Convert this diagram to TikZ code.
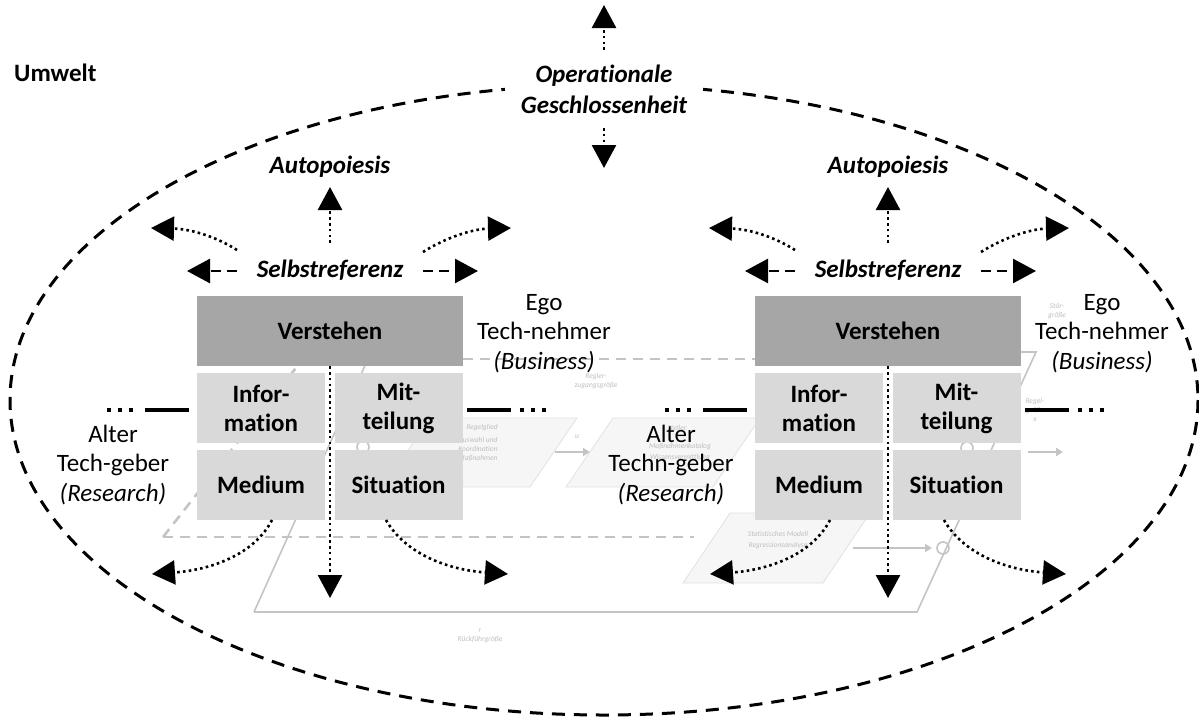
\documentclass[tikz,border=0pt]{standalone}
\usepackage{fontspec}
\setmainfont{Carlito}[Ligatures=NoCommon]
\usetikzlibrary{arrows.meta}
\definecolor{boxdark}{HTML}{A6A6A6}
\definecolor{boxlight}{HTML}{D9D9D9}
\definecolor{faint}{HTML}{C4C4C4}
\definecolor{fainttext}{HTML}{BEBEBE}
\definecolor{faintfill}{HTML}{F6F6F6}
\begin{document}
\begin{tikzpicture}[x=1pt,y=-1pt,
  lbl/.style={font=\fontsize{25}{29.5}\selectfont, align=center, inner sep=0pt},
  bi/.style={font=\fontsize{25}{31}\selectfont\bfseries\itshape, align=center, inner sep=0pt},
  box/.style={fill=boxlight, draw=none, minimum width=128pt, minimum height=70pt, inner sep=0pt,
              font=\fontsize{25}{29}\selectfont\bfseries, align=center},
  topbox/.style={box, fill=boxdark, minimum width=266pt},
  tri/.style={-{Triangle[length=23pt,width=24pt]}},
  dotarrow/.style={tri, line width=2.6pt, dash pattern=on 2.6pt off 3.2pt},
  dasharrow/.style={tri, line width=2.6pt, dash pattern=on 10pt off 6pt},
  bdash/.style={line width=3pt, dash pattern=on 13pt off 9pt},
  link/.style={line width=3.2pt},
  dots/.style={line width=4pt, dash pattern=on 4pt off 7pt},
  bgline/.style={draw=faint, line width=1.6pt},
  bgdash/.style={draw=faint, line width=2.6pt, dash pattern=on 10pt off 7pt},
  tiny/.style={font=\fontsize{7.5}{9}\selectfont\itshape, text=fainttext, inner sep=0pt, align=center},
  plane/.style={fill=faintfill, draw=faint!50, line width=0.8pt},
]
\useasboundingbox (0,0) rectangle (1199,718);

% ---------- faded control loop in the background ----------
\draw[bgline] (254,612) -- (917,612) -- (1036,352) -- (1010,352);
\draw[bgline] (254,612) -- (372,350);
\draw[bgdash] (463,359) -- (755,359);
\draw[bgdash] (163,537) -- (694,537);
\draw[bgdash] (163,537) -- (303,359);
\filldraw[plane] (430,418) -- (577,418) -- (530,487) -- (383,487) -- cycle;
\filldraw[plane] (613,418) -- (760,418) -- (713,487) -- (566,487) -- cycle;
\filldraw[plane] (730,513) -- (870,513) -- (823,583) -- (683,583) -- cycle;
\node[tiny] (t1) at (482,428) {Regelglied};
\node[tiny] (t2) at (478,449) {Auswahl und\\Koordination\\Maßnahmen};
\node[tiny] (t3) at (677,428) {Steller};
\node[tiny] (t4) at (680,452) {Maßnahmenkatalog\\[2pt]Wissensvermittlung};
\node[tiny] (t5) at (778,540) {Statistisches Modell\\[2pt]Regressionsanalyse};
\node[tiny] (t6) at (596,381) {Regler-\\zugangsgröße};
\node[tiny] (t7) at (1057,311) {Stör-\\größe};
\node[tiny] (t8) at (1035,410) {Regel-\\größe\\x};
\node[tiny] (t9) at (480,636) {r\\Rückführgröße};
\node[tiny] (t10) at (577,437) {u};
\draw[faint, line width=2pt, -{Triangle[length=7pt,width=8pt]}] (555,452) -- (590,452);
\draw[faint, line width=2pt, -{Triangle[length=7pt,width=8pt]}] (1028,452) -- (1063,452);
\draw[faint, line width=2pt, -{Triangle[length=7pt,width=8pt]}] (853,548) -- (932,548);
\draw[faint, line width=1.6pt] (943,548) circle (6);
\draw[faint, line width=1.6pt] (967,448) circle (6);
\draw[faint, line width=1.6pt] (363,447) circle (6);

% ---------- system boundary ----------
\draw[bdash] (604,400) ellipse [x radius=594, y radius=315];

\node[font=\fontsize{25}{29.5}\selectfont\bfseries, anchor=base west, inner sep=0pt] (umwelt) at (14,81) {Umwelt};

% multi-line nodes: the base anchor sits on the last line
\node[bi, fill=white, inner xsep=16pt, inner ysep=4pt, anchor=base] (opg) at (604,113)
  {Operationale\\Geschlossenheit};
\coordinate (opgtop) at (604,5);
\coordinate (opgbot) at (604,168);
\draw[dotarrow] (604,50) -- (opgtop);
\draw[dotarrow] (604,128) -- (opgbot);

% ---------- the two communication units ----------
\foreach \m/\cx/\geber in {L/330/Tech-geber, R/888/Techn-geber}{
  \node[topbox] (vs-\m) at (\cx,331) {Verstehen};
  \node[box] (inf-\m) at (\cx-69,408) {Infor-\\mation};
  \node[box] (mit-\m) at (\cx+68.5,408) {Mit-\\teilung};
  \node[box] (med-\m) at (\cx-69,485) {Medium};
  \node[box] (sit-\m) at (\cx+68.5,485) {Situation};

  \node[bi, anchor=base] (auto-\m) at (\cx,173) {Autopoiesis};
  \node[bi, anchor=base] (sr-\m) at (\cx,277) {Selbstreferenz};

  \coordinate (aup-\m) at (\cx,187);
  \draw[dotarrow] (\cx,243) -- (aup-\m);

  \coordinate (srl-\m) at (\cx-143,271);
  \coordinate (srr-\m) at (\cx+148,271);
  \draw[dasharrow] (\cx-93,271) -- (srl-\m);
  \draw[dasharrow] (\cx+93,271) -- (srr-\m);

  \coordinate (ul-\m) at (\cx-179,228);
  \coordinate (ur-\m) at (\cx+181,228);
  \draw[dotarrow] (\cx-93,250) .. controls (\cx-115,236) and (\cx-140,229) .. (ul-\m);
  \draw[dotarrow] (\cx+93,252) .. controls (\cx+115,238) and (\cx+142,229) .. (ur-\m);

  \coordinate (dl-\m) at (\cx-178,574);
  \coordinate (dr-\m) at (\cx+178,574);
  \coordinate (dd-\m) at (\cx,598);
  \draw[dotarrow] (\cx-58,520) .. controls (\cx-76,555) and (\cx-120,570) .. (dl-\m);
  \draw[dotarrow] (\cx+56,520) .. controls (\cx+76,555) and (\cx+120,570) .. (dr-\m);
  \draw[dotarrow] (vs-\m.south) -- (dd-\m);

  \draw[dots] (\cx-223,410) -- (\cx-194,410);
  \draw[link] (\cx-185,410) -- (\cx-141,410);
  \draw[link] (\cx+137,410) -- (\cx+181,410);
  \draw[dots] (\cx+190,410) -- (\cx+221,410);

  \node[lbl, anchor=base] (alter-\m) at (\cx-217,501) {Alter\\\geber\\\textit{(Research)}};
  \node[lbl, anchor=base] (ego-\m) at (\cx+214,369) {Ego\\Tech-nehmer\\\textit{(Business)}};
}
\end{tikzpicture}
\end{document}
